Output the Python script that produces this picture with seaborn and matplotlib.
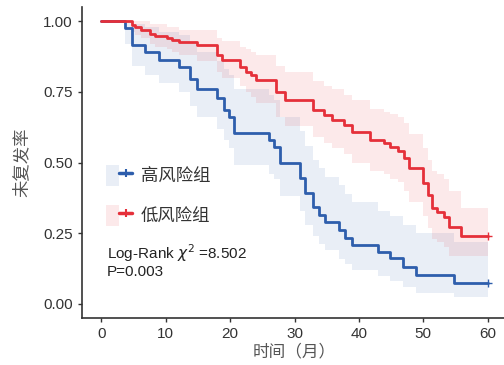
import matplotlib
matplotlib.use('Agg')
import matplotlib.pyplot as plt
import seaborn as sns
import pandas as pd
from matplotlib.lines import Line2D
from matplotlib.patches import Patch
from matplotlib.legend_handler import HandlerTuple

# 高风险组 (KM 曲线 + 95% 置信区间)
high_time = [0, 3.7, 4.8, 6.8, 8.9, 12.0, 13.8, 14.9, 18.0, 19.0, 19.8, 20.6, 26.0, 26.8,
             27.8, 30.9, 31.7, 32.8, 33.8, 34.8, 36.9, 37.9, 39.0, 42.9, 44.9, 46.8, 48.8,
             54.8, 60]
high_surv = [1.0, 0.974, 0.915, 0.892, 0.862, 0.839, 0.797, 0.759, 0.727, 0.686, 0.662, 0.603,
             0.580, 0.556, 0.497, 0.444, 0.391, 0.344, 0.314, 0.291, 0.261, 0.232, 0.208,
             0.185, 0.161, 0.132, 0.102, 0.075, 0.075]
high_low = [1.0, 0.92, 0.84, 0.81, 0.78, 0.75, 0.70, 0.66, 0.62, 0.58, 0.55, 0.49, 0.46, 0.44,
            0.38, 0.33, 0.28, 0.24, 0.21, 0.19, 0.16, 0.14, 0.12, 0.10, 0.08, 0.06, 0.04,
            0.025, 0.025]
high_up = [1.0, 1.0, 0.99, 0.98, 0.96, 0.95, 0.92, 0.89, 0.86, 0.83, 0.81, 0.76, 0.74, 0.72,
           0.66, 0.61, 0.56, 0.51, 0.48, 0.45, 0.42, 0.39, 0.36, 0.33, 0.31, 0.28, 0.25,
           0.22, 0.22]

# 低风险组
low_time = [0, 4.8, 5.3, 6.1, 7.6, 8.4, 10.2, 11.0, 12.0, 14.9, 18.0, 18.8, 21.6, 22.4, 23.2,
            24.0, 27.1, 28.6, 32.9, 34.6, 35.9, 37.7, 39.0, 41.8, 43.9, 44.9, 46.0, 47.0,
            47.8, 49.9, 50.7, 51.4, 52.2, 53.2, 54.0, 55.8, 60]
low_surv = [1.0, 0.986, 0.980, 0.970, 0.956, 0.948, 0.939, 0.933, 0.925, 0.915, 0.880, 0.862,
            0.839, 0.821, 0.809, 0.792, 0.750, 0.721, 0.686, 0.668, 0.650, 0.633, 0.609,
            0.580, 0.568, 0.556, 0.540, 0.515, 0.479, 0.426, 0.385, 0.338, 0.326, 0.309,
            0.273, 0.240, 0.240]
low_low = [1.0, 0.96, 0.95, 0.94, 0.92, 0.91, 0.90, 0.89, 0.88, 0.86, 0.82, 0.80, 0.77, 0.75,
           0.73, 0.71, 0.66, 0.63, 0.59, 0.57, 0.55, 0.53, 0.50, 0.47, 0.46, 0.44, 0.43,
           0.40, 0.36, 0.31, 0.27, 0.23, 0.22, 0.20, 0.17, 0.17, 0.17]
low_up = [1.0, 1.0, 1.0, 1.0, 0.99, 0.99, 0.98, 0.98, 0.97, 0.97, 0.94, 0.93, 0.91, 0.90, 0.89,
          0.88, 0.84, 0.82, 0.79, 0.77, 0.76, 0.74, 0.72, 0.69, 0.68, 0.67, 0.66, 0.64, 0.60,
          0.55, 0.51, 0.47, 0.46, 0.44, 0.40, 0.34, 0.34]

groups = ['高风险组', '低风险组']
colors = ['#2e5eac', '#e5303a']
x_ticks = [0, 10, 20, 30, 40, 50, 60]
y_ticks = [0.00, 0.25, 0.50, 0.75, 1.00]

sns.set_style('ticks')
plt.rcParams['font.family'] = ['Liberation Sans', 'Noto Sans CJK SC']

fig = plt.figure(figsize=(5.04, 3.65), dpi=100)
ax = fig.add_axes([82 / 504, (365 - 318) / 365, 425 / 504, 311 / 365])

df = pd.concat([
    pd.DataFrame({'time': high_time, 'surv': high_surv, 'group': groups[0]}),
    pd.DataFrame({'time': low_time, 'surv': low_surv, 'group': groups[1]}),
])

# 置信区间
ax.fill_between(high_time, high_low, high_up, step='post', color=colors[0], alpha=0.1, lw=0)
ax.fill_between(low_time, low_low, low_up, step='post', color=colors[1], alpha=0.1, lw=0)

sns.lineplot(data=df, x='time', y='surv', hue='group', palette=colors, hue_order=groups,
             drawstyle='steps-post', estimator=None, sort=False, lw=2, legend=False, ax=ax)

# 删失标记
ax.plot(high_time[-1], high_surv[-1], marker='+', ms=6, mew=1, color=colors[0])
ax.plot(low_time[-1], low_surv[-1], marker='+', ms=6, mew=1, color=colors[1])

ax.set_xlim(-3, 63)
ax.set_ylim(-0.05, 1.05)
ax.set_xticks(x_ticks)
ax.set_yticks(y_ticks)
ax.set_yticklabels([f'{v:.2f}' for v in y_ticks])
ax.tick_params(axis='both', labelsize=11, colors='#333333', length=3, width=1)
for s in ['left', 'bottom']:
    ax.spines[s].set_color('#333333')
    ax.spines[s].set_linewidth(1.2)
sns.despine(ax=ax)

ax.set_xlabel('时间（月）', fontsize=12, color='#555555', labelpad=2)
ax.set_ylabel('未复发率', fontsize=12.5, color='#555555', labelpad=10)

# 图例
handles = []
for c in colors:
    handles.append((Patch(facecolor=c, alpha=0.1, lw=0),
                    Line2D([], [], color=c, lw=2.5, marker='|', ms=6, mew=1.5)))
ax.legend(handles, groups, handler_map={tuple: HandlerTuple(ndivide=None, pad=0)},
          loc='upper left', bbox_to_anchor=(106 / 504, 1 - 165 / 365),
          bbox_transform=fig.transFigure, frameon=False, fontsize=12.5,
          handlelength=1.5, handleheight=1.5, handletextpad=0.5, labelspacing=1.1,
          borderpad=0, borderaxespad=0, labelcolor='#333333')

fig.text(107 / 504, 1 - 253 / 365, r'Log-Rank $\chi^2$ =8.502', fontsize=11, va='center',
         color='#222222')
fig.text(107 / 504, 1 - 272 / 365, 'P=0.003', fontsize=11, va='center', color='#222222')

fig.savefig('out.png', dpi=100)
plt.close(fig)
